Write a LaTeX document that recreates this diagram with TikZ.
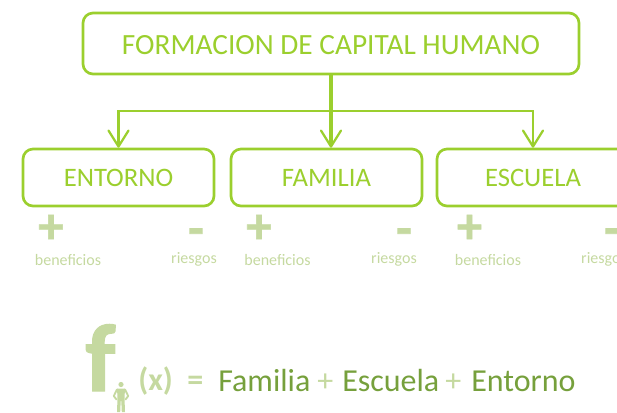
\documentclass[tikz,border=0pt]{standalone}
\usepackage{fontspec}
\setmainfont{Carlito}
\newfontfamily\heavy[FakeBold=1.6,BoldFeatures={FakeBold=1.2}]{Carlito}
\usetikzlibrary{arrows.meta}
\definecolor{lime}{HTML}{9BCF2E}
\definecolor{pale}{HTML}{C5D9A0}
\definecolor{dark}{HTML}{76A03C}
\tikzset{
  boxn/.style={draw=lime,line width=2pt,rounded corners=7.5pt,inner sep=0pt,text=lime,font=\fontsize{20}{24}\selectfont,align=center},
  conn/.style={draw=lime,line width=2pt,-{Straight Barb[length=12pt,width=15pt,line width=1.7pt,round]}},
  sign/.style={text=pale,font=\bfseries\fontsize{38}{40}\selectfont,inner sep=0pt},
  small/.style={text=pale,font=\fontsize{12}{14}\selectfont,inner sep=0pt},
  formula/.style={text=dark,font=\fontsize{24}{28}\selectfont,inner sep=0pt,anchor=base west},
  paleform/.style={text=pale,inner sep=0pt,anchor=base west}
}
\begin{document}
\begin{tikzpicture}[x=0.75pt,y=-0.75pt]
\useasboundingbox (0,0) rectangle (617,412);
\clip (0,0) rectangle (617,412);
\node[boxn,minimum width=372pt,minimum height=45.75pt,font=\fontsize{22}{26}\selectfont] (top) at (331,43.5) {\rule{0pt}{17pt}FORMACION DE CAPITAL HUMANO};
\node[boxn,minimum width=143.25pt,minimum height=42.75pt] (ent) at (118.5,177.5) {ENTORNO};
\node[boxn,minimum width=143.25pt,minimum height=42.75pt] (fam) at (326.5,177.5) {FAMILIA};
\node[boxn,minimum width=144pt,minimum height=42.75pt] (esc) at (533,177.5) {ESCUELA};
\coordinate (bus) at (331,111);
\draw[conn,line width=2.6pt] (top.south) -- (top.south |- fam.north);
\draw[conn] (bus) -| (ent.north);
\draw[conn] (bus) -| (esc.north);
% plus / minus
\foreach \n/\x in {p1/51,p2/259,p3/469.5}{
  \node[sign] (\n) at (\x,229) {\heavy +};
}
\foreach \n/\x in {m1/196,m2/404,m3/612}{
  \node[sign] (\n) at (\x,237) {\heavy -};
}
\foreach \n/\x in {b1/68,b2/277.5,b3/488}{
  \node[small] (\n) at (\x,260) {beneficios};
}
\foreach \n/\x in {r1/194,r2/394,r3/604}{
  \node[small] (\n) at (\x,259.5) {riesgos};
}
% formula
\node[text=pale,font=\heavy\bfseries\fontsize{72}{76}\selectfont,inner sep=0pt,anchor=base west] (f) at (85,391) {f};
\node[paleform,font=\bfseries\fontsize{24}{28}\selectfont] (x) at (138,390) {(x)};
\node[paleform,font=\bfseries\fontsize{24}{28}\selectfont] (eq) at (187,390) {=};
\node[formula] (t1) at (218,391) {Familia};
\node[paleform,font=\fontsize{24}{28}\selectfont] (p) at (317,391) {+};
\node[formula] (t2) at (342,391) {Escuela};
\node[paleform,font=\fontsize{24}{28}\selectfont] (q) at (445,391) {+};
\node[formula] (t3) at (471,391) {Entorno};
% person
\fill[pale] (121,384.5) circle (2.6);
\fill[pale] (117,388.5) -- (125,388.5) -- (124.5,398) -- (125,412) -- (121.8,412) -- (121.3,401) -- (120.7,401) -- (120.2,412) -- (117,412) -- (117.5,398) -- cycle;
\draw[pale,line width=1.4pt,line join=round,line cap=round] (117,389.5) -- (113.8,396) -- (116.5,399.5);
\draw[pale,line width=1.4pt,line join=round,line cap=round] (125,389.5) -- (128.2,396) -- (125.5,399.5);
\end{tikzpicture}
\end{document}
